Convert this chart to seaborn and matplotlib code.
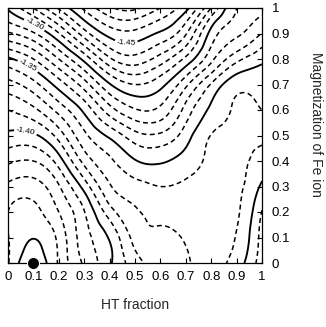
import numpy as np
import matplotlib
matplotlib.use("Agg")
import matplotlib.pyplot as plt
import matplotlib.tri as mtri
import seaborn as sns

sns.set_style("ticks", {"axes.edgecolor": "black", "xtick.color": "black", "ytick.color": "black"})
plt.rcParams["font.family"] = ["Liberation Sans", "DejaVu Sans"]
plt.rcParams["lines.dashed_pattern"] = [3.2, 2.2]

# grid (energy per node)
ht_fraction = [0.0, 0.1, 0.2, 0.3, 0.4, 0.5, 0.6, 0.7, 0.8, 0.9, 1.0]
magnetization = [0.0, 0.1, 0.2, 0.3, 0.4, 0.5, 0.6, 0.7, 0.8, 0.9, 1.0]

e_m00 = [-1.4392, -1.4565, -1.4385, -1.4185, -1.4017, -1.3840, -1.3760, -1.3713, -1.3647, -1.3552, -1.3340]
e_m01 = [-1.4395, -1.4497, -1.4372, -1.4145, -1.3987, -1.3767, -1.3722, -1.3689, -1.3645, -1.3593, -1.3360]
e_m02 = [-1.4400, -1.4430, -1.4300, -1.4105, -1.3847, -1.3713, -1.3670, -1.3652, -1.3640, -1.3615, -1.3395]
e_m03 = [-1.4323, -1.4344, -1.4209, -1.3960, -1.3712, -1.3636, -1.3600, -1.3615, -1.3632, -1.3625, -1.3480]
e_m04 = [-1.4180, -1.4200, -1.4050, -1.3767, -1.3618, -1.3508, -1.3486, -1.3548, -1.3620, -1.3625, -1.3558]
e_m05 = [-1.4025, -1.4017, -1.3857, -1.3625, -1.3478, -1.3338, -1.3320, -1.3453, -1.3603, -1.3622, -1.3615]
e_m06 = [-1.3900, -1.3825, -1.3665, -1.3475, -1.3245, -1.3110, -1.3127, -1.3338, -1.3522, -1.3610, -1.3600]
e_m07 = [-1.3736, -1.3636, -1.3454, -1.3250, -1.3009, -1.2900, -1.2967, -1.3175, -1.3409, -1.3565, -1.3556]
e_m08 = [-1.3520, -1.3400, -1.3200, -1.2968, -1.2718, -1.2638, -1.2744, -1.2925, -1.3172, -1.3367, -1.3474]
e_m09 = [-1.3214, -1.3114, -1.2907, -1.2648, -1.2462, -1.2431, -1.2517, -1.2689, -1.3036, -1.3180, -1.3306]
e_m10 = [-1.2985, -1.2800, -1.2585, -1.2380, -1.2220, -1.2180, -1.2300, -1.2464, -1.2800, -1.3100, -1.3157]

label_levels = [-1.30, -1.35, -1.40, -1.25]
label_texts = ["-1.30", "-1.35", "-1.40", "-1.45"]
label_spots = [(0.11, 0.945), (0.08, 0.775), (0.07, 0.52), (0.465, 0.855)]

ground_x = [0.1]
ground_y = [0.0]

energy = np.array([e_m00, e_m01, e_m02, e_m03, e_m04, e_m05,
                   e_m06, e_m07, e_m08, e_m09, e_m10])
X, Y = np.meshgrid(ht_fraction, magnetization)
tri = mtri.Triangulation(X.ravel(), Y.ravel())
interp = mtri.CubicTriInterpolator(tri, energy.ravel(), kind="min_E")
refiner = mtri.UniformTriRefiner(tri)
tri_f, z_f = refiner.refine_field(energy.ravel(), triinterpolator=interp, subdiv=4)

levels = np.round(np.arange(-1.46, -1.214, 0.01), 2)
solid_levels = [lv for lv in levels if round(lv * 100) % 5 == 0]
dash_levels = [lv for lv in levels if round(lv * 100) % 5 != 0]

fig = plt.figure(figsize=(3.26, 3.27), dpi=100)
ax = fig.add_axes([8 / 326, 64 / 327, 254 / 326, 255 / 327])

ax.tricontour(tri_f, z_f, levels=dash_levels, colors="black",
              linewidths=1.1, linestyles="dashed")
cs = ax.tricontour(tri_f, z_f, levels=solid_levels, colors="black",
                   linewidths=1.35, linestyles="solid")

names = {round(lv, 2): t for lv, t in zip(label_levels, label_texts)}
ax.clabel(cs, manual=label_spots, inline=True, inline_spacing=2,
          fontsize=6, fmt=lambda v: names.get(round(v, 2), f"{v:.2f}"))

sns.scatterplot(x=ground_x, y=ground_y, color="black", s=75, ax=ax,
                clip_on=False, zorder=5, legend=False)

ticks = np.round(np.arange(0, 1.01, 0.1), 1)
tick_labels = ["0"] + [f"{t:.1f}" for t in ticks[1:-1]] + ["1"]
ax.set_xlim(0, 1)
ax.set_ylim(0, 1)
ax.set_xticks(ticks)
ax.set_xticklabels(tick_labels)
ax.set_yticks(ticks)
ax.set_yticklabels(tick_labels)
ax.tick_params(direction="in", top=True, right=True, left=True, bottom=True,
               labelleft=False, labelright=True, length=3.6, width=0.8,
               labelsize=9.5)
ax.tick_params(axis="x", pad=6)
ax.tick_params(axis="y", pad=7)
for s in ax.spines.values():
    s.set_linewidth(0.9)

ax.set_xlabel("HT fraction", fontsize=10)
ax.xaxis.set_label_coords(0.5, -0.137)
ax.yaxis.set_label_position("right")
ax.set_ylabel("Magnetization of Fe ion", fontsize=10, rotation=-90,
              ha="center", va="center")
ax.yaxis.set_label_coords(1.213, 0.545)

fig.savefig("out.png", dpi=100)
